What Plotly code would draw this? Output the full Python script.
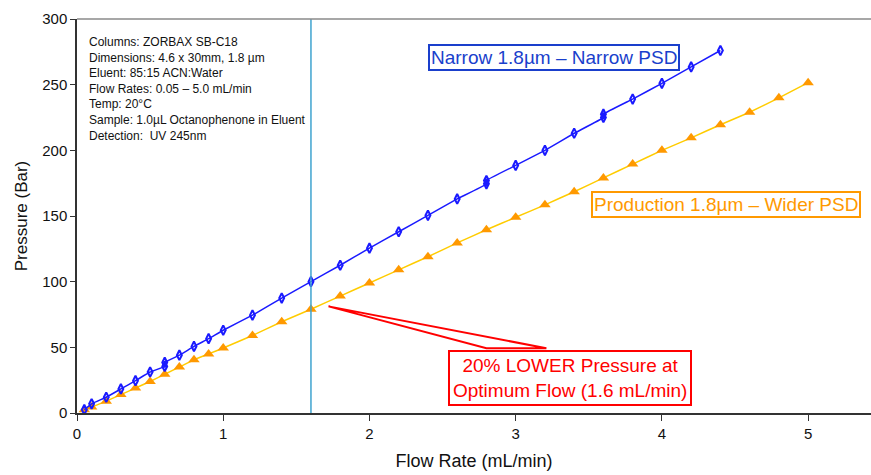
import plotly.graph_objects as go

# Narrow 1.8 µm column (narrow particle size distribution)
narrow_flow = [0.05, 0.1, 0.2, 0.3, 0.4, 0.5, 0.6, 0.6, 0.7, 0.8, 0.9, 1.0, 1.2, 1.4, 1.6,
               1.8, 2.0, 2.2, 2.4, 2.6, 2.8, 2.8, 3.0, 3.2, 3.4, 3.6, 3.6, 3.8, 4.0, 4.2, 4.4]
narrow_pressure = [2.5, 7, 12, 18.3, 24.6, 31.2, 35.5, 38.5, 44, 50.7, 56.6, 63, 74.5, 87.5, 100,
                   112.5, 125.5, 138, 150.5, 163, 174.5, 177, 188.5, 200, 213, 225, 227.5, 239,
                   251, 263.5, 276]

# Production 1.8 µm column (wider particle size distribution)
prod_flow = [0.05, 0.1, 0.2, 0.3, 0.4, 0.5, 0.6, 0.7, 0.8, 0.9, 1.0, 1.2, 1.4, 1.6, 1.8, 2.0,
             2.2, 2.4, 2.6, 2.8, 3.0, 3.2, 3.4, 3.6, 3.8, 4.0, 4.2, 4.4, 4.6, 4.8, 5.0]
prod_pressure = [2.5, 4.5, 9, 14, 19, 24, 29.5, 35, 40.5, 45, 49.5, 59, 69.5, 79, 89, 99,
                 109, 119, 129.5, 139.5, 149, 158.5, 168.5, 179, 189.5, 200, 209.5, 219.5,
                 229, 240, 251.5]

optimum_flow = 1.6
x_ticks = [0, 1, 2, 3, 4, 5]
y_ticks = [0, 50, 100, 150, 200, 250, 300]

conditions = [
    "Columns: ZORBAX SB-C18",
    "Dimensions: 4.6 x 30mm, 1.8 µm",
    "Eluent: 85:15 ACN:Water",
    "Flow Rates: 0.05 – 5.0 mL/min",
    "Temp: 20°C",
    "Sample: 1.0µL Octanophenone in Eluent",
    "Detection:  UV 245nm",
]

SANS = "Liberation Sans, Arial, sans-serif"

fig = go.Figure()

fig.add_trace(go.Scatter(
    x=prod_flow, y=prod_pressure, mode="lines+markers",
    line=dict(color="#FFCC00", width=1.5, shape="spline", smoothing=0.3),
    marker=dict(symbol="triangle-up", size=10, color="#FF9900"),
    showlegend=False,
))
fig.add_trace(go.Scatter(
    x=narrow_flow, y=narrow_pressure, mode="lines+markers",
    line=dict(color="#1A1AFF", width=1.5, shape="spline", smoothing=0.3),
    marker=dict(symbol="diamond-tall-open", size=7, color="#1A1AFF",
                line=dict(width=2, color="#1A1AFF")),
    showlegend=False,
))

# optimum flow marker line
fig.add_shape(type="line", xref="x", yref="paper", x0=optimum_flow, x1=optimum_flow,
              y0=0, y1=1, line=dict(color="#3FA3CF", width=1.5))
# top frame line
fig.add_shape(type="line", xref="paper", yref="paper", x0=0, x1=1, y0=1, y1=1,
              line=dict(color="#8A8A8A", width=1.5))

# callout wedge pointing at the production curve at the optimum flow
fig.add_shape(type="path", xref="x", yref="y",
              path="M 1.72 81.2 L 2.80 49.3 L 3.21 49.3 Z",
              line=dict(color="#FF0000", width=2), fillcolor="white")

fig.add_annotation(
    x=0.065, y=289, xref="x", yref="y", xanchor="left", yanchor="top",
    text="<br>".join(conditions), showarrow=False, align="left",
    font=dict(family=SANS, size=12, color="#111111"),
)
fig.add_annotation(
    x=3.26, y=271, xref="x", yref="y", text="Narrow 1.8µm – Narrow PSD",
    showarrow=False, font=dict(family=SANS, size=19, color="#1A3FCC"),
    bordercolor="#1A3FCC", borderwidth=2, borderpad=1, bgcolor="white",
)
fig.add_annotation(
    x=4.44, y=158.6, xref="x", yref="y", text="Production 1.8µm – Wider PSD",
    showarrow=False, font=dict(family=SANS, size=19, color="#FF9900"),
    bordercolor="#FF9900", borderwidth=2, borderpad=1, bgcolor="white",
)
fig.add_annotation(
    x=3.37, y=26.5, xref="x", yref="y",
    text="20% LOWER Pressure at<br>Optimum Flow (1.6 mL/min)",
    showarrow=False, align="center", font=dict(family=SANS, size=19, color="#FF0000"),
    bordercolor="#FF0000", borderwidth=2, borderpad=3, bgcolor="white",
)

fig.update_layout(
    width=871, height=475,
    margin=dict(l=77, r=0, t=19, b=62),
    paper_bgcolor="white", plot_bgcolor="white",
    showlegend=False,
    xaxis=dict(
        range=[0, 5.43], tickvals=x_ticks, ticks="outside", ticklen=6, tickwidth=1,
        tickcolor="#333333", showline=True, linecolor="#333333", linewidth=1.5,
        showgrid=False, zeroline=False,
        tickfont=dict(family=SANS, size=15, color="#111111"),
        title=dict(text="Flow Rate (mL/min)", font=dict(family=SANS, size=18, color="#111111"),
                   standoff=14),
    ),
    yaxis=dict(
        range=[0, 300], tickvals=y_ticks, ticks="outside", ticklen=5, tickwidth=1,
        tickcolor="#333333", showline=True, linecolor="#333333", linewidth=1.5,
        showgrid=False, zeroline=False,
        tickfont=dict(family=SANS, size=15, color="#111111"),
        title=dict(text="Pressure (Bar)", font=dict(family=SANS, size=17, color="#111111"),
                   standoff=10),
    ),
)

fig.write_html("out.html")
